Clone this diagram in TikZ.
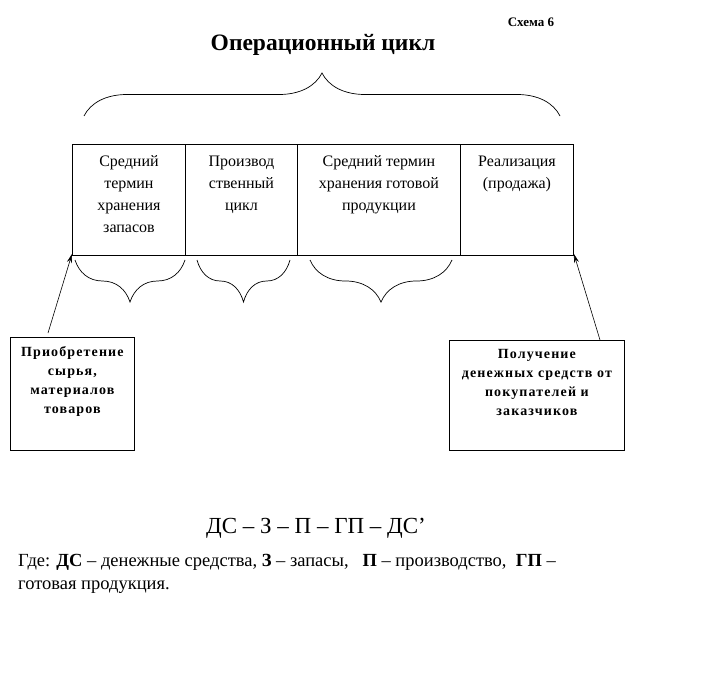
\documentclass[tikz,border=0pt]{standalone}
\usepackage{fontspec}
\setmainfont{Liberation Serif}
\usetikzlibrary{decorations.pathreplacing,arrows.meta}
\begin{document}
\begin{tikzpicture}[x=1pt,y=-1pt,
  cell/.style={draw,line width=0.9pt,anchor=north west,minimum height=111pt,inner sep=0pt},
  celltext/.style={anchor=north,align=center,font=\fontsize{16}{22}\selectfont,inner sep=0pt},
  sidebox/.style={draw,line width=0.8pt,anchor=north west,inner sep=0pt},
  sidetext/.style={anchor=north,align=center,font=\fontsize{14}{19}\selectfont\bfseries\addfontfeatures{LetterSpace=8},inner sep=0pt},
  bracetop/.style={decorate,decoration={brace,amplitude=43pt},line width=0.7pt},
  bracebot/.style={decorate,decoration={brace,amplitude=42pt},line width=0.7pt},
  arr/.style={-{Stealth[length=9pt,width=5pt]},line width=0.6pt}]
\useasboundingbox (0,0) rectangle (710,682);
\node[font=\fontsize{13}{15}\selectfont\bfseries] (scheme) at (531,22) {Схема 6};
\node[font=\fontsize{23.5}{26}\selectfont\bfseries] (title) at (323,45) {Операционный цикл};
% cells
\node[cell,minimum width=113pt] (b1) at (72,144) {};
\node[cell,minimum width=112pt] (b2) at (185,144) {};
\node[cell,minimum width=163pt] (b3) at (297,144) {};
\node[cell,minimum width=113pt] (b4) at (460,144) {};
\node[celltext] (t1) at ([yshift=-7pt]b1.north) {\strut Средний\\термин\\хранения\\запасов};
\node[celltext] (t2) at ([yshift=-7pt]b2.north) {\strut Производ\\ственный\\цикл};
\node[celltext] (t3) at ([yshift=-7pt]b3.north) {\strut Средний термин\\хранения готовой\\продукции};
\node[celltext] (t4) at ([yshift=-7pt]b4.north) {\strut Реализация\\(продажа)};
% braces
\coordinate (bt1) at (84,116);
\coordinate (bt2) at (560,116);
\draw[bracetop] (bt1) -- (bt2);
\coordinate (l1a) at (75,260); \coordinate (l1b) at (185,260);
\coordinate (l2a) at (197,260); \coordinate (l2b) at (290,260);
\coordinate (l3a) at (310,260); \coordinate (l3b) at (452,260);
\draw[bracebot] (l1b) -- (l1a);
\draw[bracebot] (l2b) -- (l2a);
\draw[bracebot] (l3b) -- (l3a);
% side boxes
\node[sidebox,minimum width=124pt,minimum height=113pt] (lb) at (10,337) {};
\node[sidebox,minimum width=175pt,minimum height=110pt] (rb) at (449,340) {};
\node[sidetext] (lt) at ([yshift=-9pt]lb.north) {Приобретение\\сырья,\\материалов\\товаров};
\node[sidetext] (rt) at ([yshift=-9pt]rb.north) {Получение\\денежных средств от\\покупателей и\\заказчиков};
\coordinate (la) at (48,333);
\coordinate (ra) at (600,340);
\draw[arr] (la) -- ([yshift=2pt]b1.south west);
\draw[arr] (ra) -- ([yshift=2pt]b4.south east);
% formula
\node[font=\fontsize{23}{26}\selectfont] (formula) at (316,528) {ДС – З – П – ГП – ДС’};
\node[anchor=north west,align=left,inner sep=0pt,font=\fontsize{18.5}{23}\selectfont] (note) at (18,554)
  {Где: \textbf{ДС} – денежные средства, \textbf{З} – запасы, \ \ \textbf{П} – производство, \ \textbf{ГП} –\\готовая продукция.};
\end{tikzpicture}
\end{document}
